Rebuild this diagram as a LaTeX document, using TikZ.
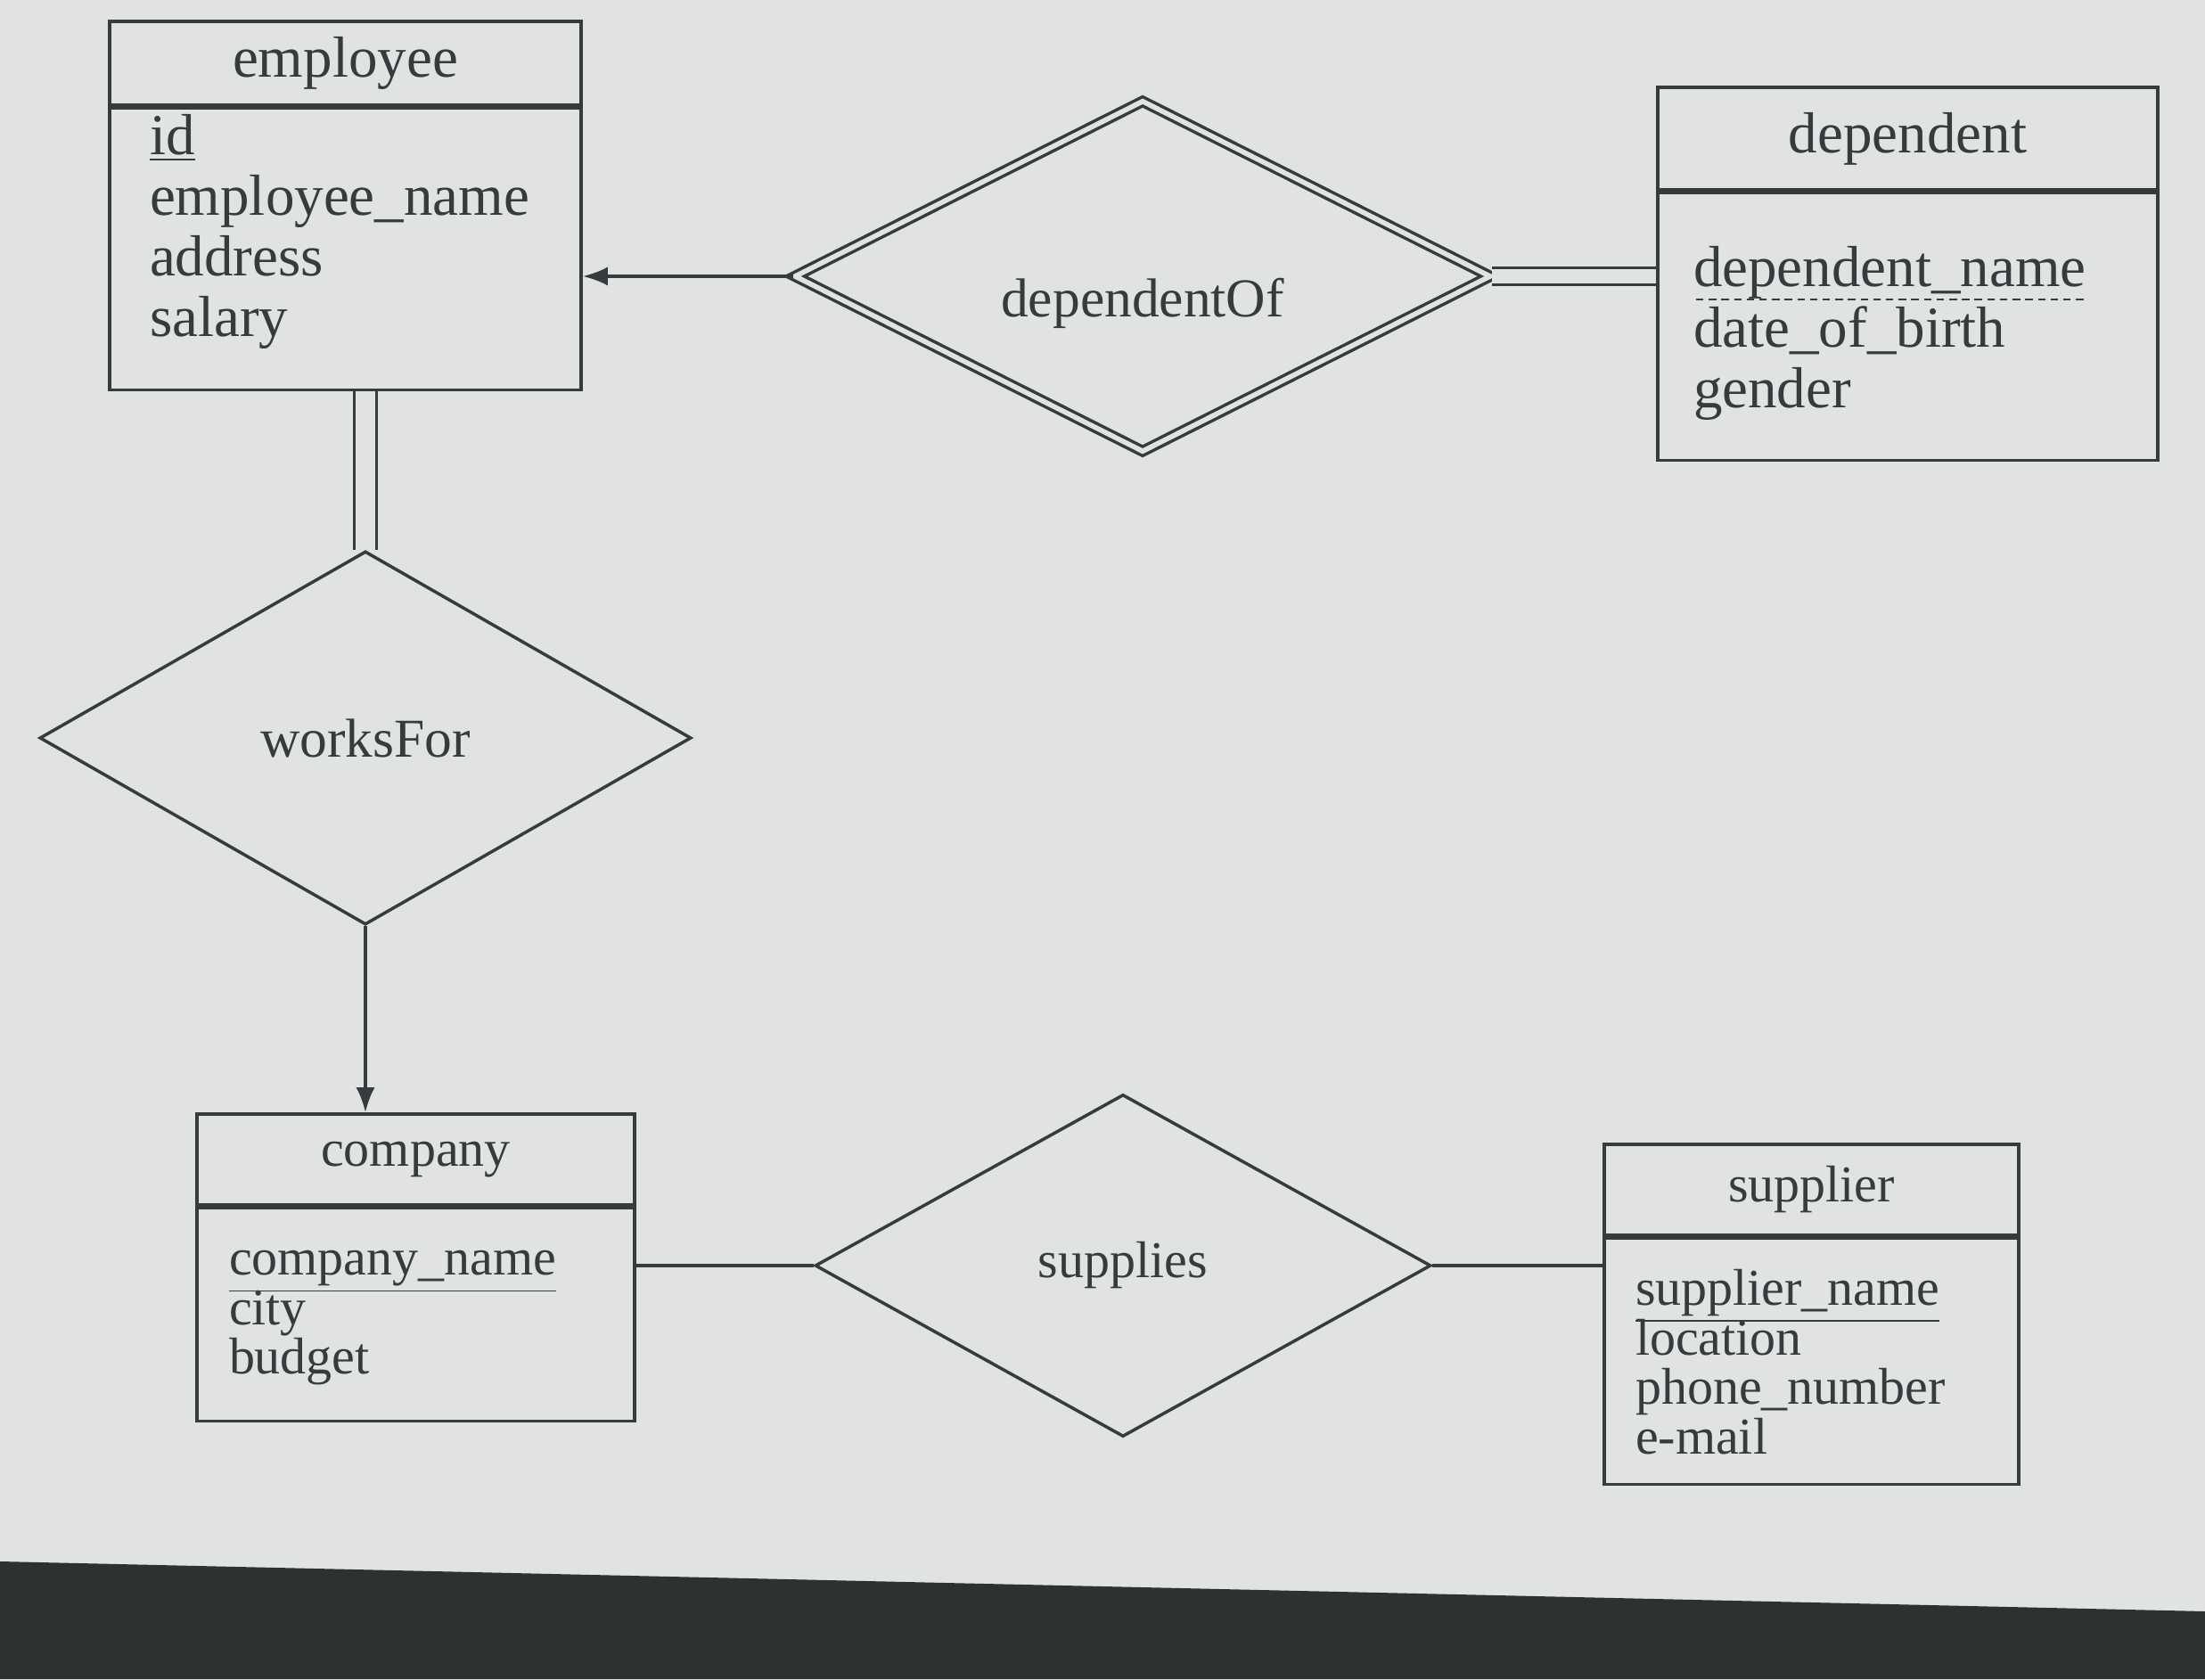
\documentclass[tikz,border=0pt]{standalone}
\usepackage{fontspec}
\setmainfont{Liberation Serif}
\usetikzlibrary{shapes.geometric, arrows.meta, positioning, calc}
\definecolor{screencolor}{HTML}{E1E3E3}
\definecolor{bezelcolor}{HTML}{2C3131}
\definecolor{inkcolor}{HTML}{363B3E}
% dashed underline for the partial key
\newcommand{\partialkey}[1]{\setbox0\hbox{#1}\rlap{\raisebox{-4.5pt}{\hbox to\wd0{\xleaders\hbox to 4pt{\hss\rule{2.4pt}{0.7pt}\hss}\hfill}}}\box0}
\newcommand{\tightlines}{\lineskiplimit=-50pt\relax\strut}

\begin{document}
\begin{tikzpicture}[color=inkcolor, line width=1pt,
    big/.style={font=\fontsize{18.5}{19.3}\selectfont},
    small/.style={font=\fontsize{16.5}{15.8}\selectfont},
    ehead/.style={rectangle, draw, inner sep=0pt},
    ebody/.style={rectangle, draw, inner sep=0pt},
    attr/.style={anchor=north west, inner sep=0pt, align=left, execute at begin node=\tightlines},
    rel/.style={diamond, aspect=2, draw, inner sep=0pt, font=\fontsize{17.5}{20}\selectfont},
    wrel/.style={rel, double=screencolor, double distance=1.6pt},
    arrow/.style={-{Latex[length=8pt, width=6pt]}},
    total/.style={double=screencolor, double distance=6pt}
]

% screen and bezel
\fill[screencolor] (0,0) rectangle (24.74,18.84);
\fill[bezelcolor] (0,0) -- (0,1.32) -- (24.74,0.76) -- (24.74,0) -- cycle;
\useasboundingbox (0,0) rectangle (24.74,18.84);

% employee
\node[ehead, big, minimum width=5.29cm, minimum height=0.94cm] (empH) at (3.875,18.13) {employee};
\node[ebody, minimum width=5.29cm, minimum height=3.16cm, below=0pt of empH] (empB) {};
\node[attr, big] (empA) at ([xshift=0.45cm, yshift=-0.07cm]empB.north west) {\underline{id}\\employee\_name\\address\\salary};

% dependent (weak entity)
\node[ehead, big, minimum width=5.61cm, minimum height=1.15cm] (depH) at (21.405,17.285) {dependent};
\node[ebody, minimum width=5.61cm, minimum height=3.00cm, below=0pt of depH] (depB) {};
\node[attr, big] (depA) at ([xshift=0.40cm, yshift=-0.60cm]depB.north west) {\partialkey{dependent\_name}\\date\_of\_birth\\gender};

% company
\node[ehead, small, minimum width=4.91cm, minimum height=1.02cm] (compH) at (4.665,5.83) {company};
\node[ebody, minimum width=4.91cm, minimum height=2.39cm, below=0pt of compH] (compB) {};
\node[attr, small] (compA) at ([xshift=0.36cm, yshift=-0.48cm]compB.north west) {\underline{company\_name}\\city\\budget};

% supplier
\node[ehead, small, minimum width=4.65cm, minimum height=1.02cm] (suppH) at (20.325,5.49) {supplier};
\node[ebody, minimum width=4.65cm, minimum height=2.76cm, below=0pt of suppH] (suppB) {};
\node[attr, small] (suppA) at ([xshift=0.35cm, yshift=-0.35cm]suppB.north west) {\underline{supplier\_name}\\location\\phone\_number\\e-mail};

% relationships
\node[wrel, text height=1.05cm, minimum width=7.81cm, minimum height=3.94cm] (depOf) at (12.82,15.74) {dependentOf};
\node[rel, minimum width=7.31cm, minimum height=4.19cm] (wf) at (4.1,10.56) {worksFor};
\node[rel, font=\fontsize{16.5}{20}\selectfont, minimum width=6.91cm, minimum height=3.84cm] (sup) at (12.60,4.64) {supplies};

\draw[arrow] (depOf.west) -- (depOf.west -| empB.east);
\draw[total, double distance=4.5pt] (depOf.east) -- (depOf.east -| depB.west);
\draw[total] (wf.north) -- (wf.north |- empB.south);
\draw[arrow] (wf.south) -- (wf.south |- compH.north);
\draw (sup.west) -- (sup.west -| compB.east);
\draw (sup.east) -- (sup.east -| suppB.west);

\end{tikzpicture}
\end{document}
